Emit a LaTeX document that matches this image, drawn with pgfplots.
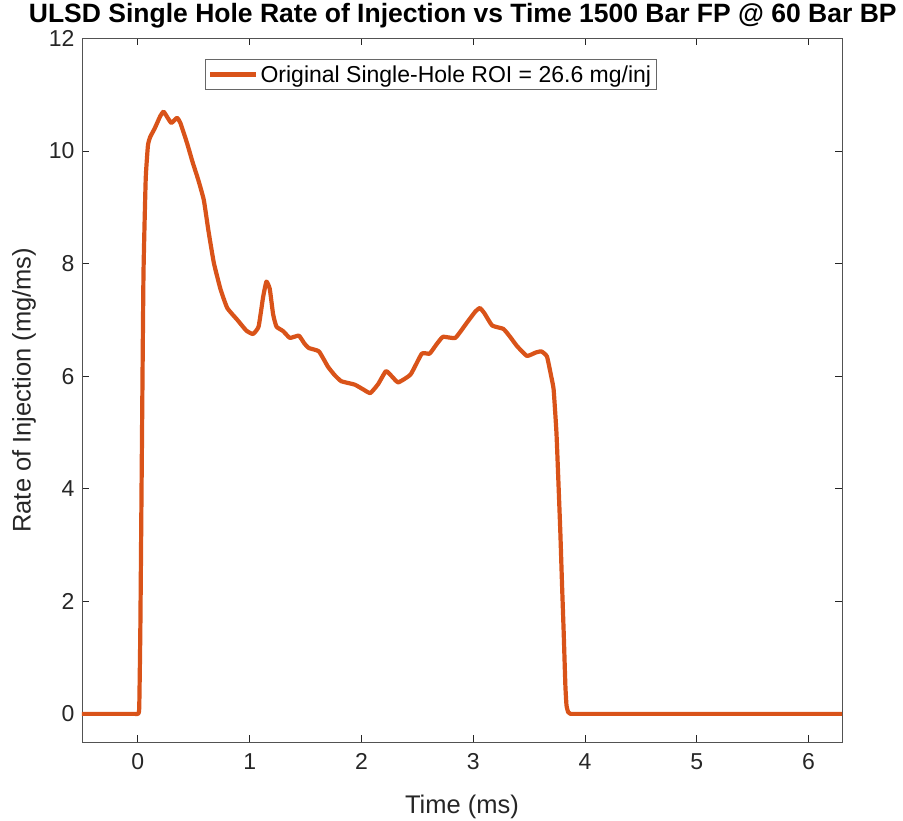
\documentclass[border=0pt]{standalone}
\usepackage{fontspec}
\setmainfont{Liberation Sans}
\usepackage{pgfplots}
\pgfplotsset{compat=1.18}
\definecolor{mlorange}{rgb}{0.85,0.325,0.098}
\definecolor{axgray}{rgb}{0.15,0.15,0.15}
\begin{document}
\begin{tikzpicture}
\begin{axis}[
  scale only axis,
  width=760pt, height=703.5pt,
  xmin=-0.5, xmax=6.3, ymin=-0.5, ymax=12,
  xtick={0,1,2,3,4,5,6},
  ytick={0,2,4,6,8,10,12},
  /pgf/number format/assume math mode=true,
  tick align=inside,
  major tick length=7pt,
  axis line style={draw=axgray!80, line width=0.8pt},
  every tick/.style={draw=axgray, line width=0.8pt},
  ticklabel style={font=\fontsize{23}{26}\selectfont, text=axgray},
  xticklabel style={yshift=-8pt},
  yticklabel style={xshift=-4pt},
  xlabel={Time (ms)},
  ylabel={Rate of Injection (mg/ms)},
  label style={font=\fontsize{25.5}{28}\selectfont, text=axgray},
  xlabel style={at={(axis description cs:0.5,-0.1023)}, anchor=base},
  ylabel style={at={(axis description cs:-0.0763,0.5)}, anchor=center},
  title={ULSD Single Hole Rate of Injection vs Time 1500 Bar FP @ 60 Bar BP},
  title style={font=\fontsize{26.5}{30}\bfseries\selectfont, at={(axis description cs:0.501,1.0149)}, anchor=base, inner sep=0pt},
  legend style={at={(axis description cs:0.1618,0.9709)}, anchor=north west,
    draw=axgray!70, line width=0.8pt, font=\fontsize{23}{26}\selectfont, text=black,
    inner xsep=3pt, inner ysep=4pt},
  legend cell align=left,
  legend image code/.code={\draw[#1] (0pt,0pt) -- (46pt,0pt);},
]
\addplot[color=mlorange, line width=4.2pt, line join=round, smooth, tension=0.25] coordinates {
(-0.5,0) (-0.3,0) (-0.1,0) (-0.03,0) (0.0,0) (0.012,0.1) (0.022,1.5) (0.035,4.5) (0.05,7.8) (0.07,9.5) (0.09,10.1)
(0.11,10.25) (0.15,10.4) (0.20,10.62) (0.23,10.70) (0.27,10.58) (0.30,10.50)
(0.35,10.59) (0.38,10.50) (0.44,10.14) (0.49,9.8) (0.54,9.49) (0.59,9.13)
(0.63,8.60) (0.68,8.01) (0.74,7.54) (0.80,7.21) (0.89,7.00) (0.97,6.81)
(1.03,6.75) (1.08,6.88) (1.12,7.4) (1.15,7.68) (1.18,7.55) (1.21,7.1)
(1.24,6.88) (1.30,6.80) (1.36,6.68) (1.44,6.72) (1.49,6.58) (1.53,6.50)
(1.62,6.44) (1.70,6.17) (1.76,6.02) (1.82,5.91) (1.94,5.85) (2.02,5.76)
(2.08,5.70) (2.15,5.86) (2.22,6.09) (2.28,5.98) (2.33,5.89) (2.44,6.03)
(2.54,6.40) (2.61,6.40) (2.67,6.56) (2.73,6.70) (2.84,6.68) (2.94,6.94)
(3.02,7.15) (3.06,7.21) (3.10,7.12) (3.17,6.90) (3.27,6.84) (3.33,6.70)
(3.39,6.54) (3.48,6.36) (3.56,6.42) (3.61,6.44) (3.66,6.35) (3.70,5.98)
(3.72,5.76) (3.745,5.0) (3.765,4.0) (3.78,3.22) (3.795,2.3) (3.81,1.44) (3.825,0.5) (3.835,0.15) (3.85,0.03)
(3.87,0) (3.92,0) (4.05,0) (4.3,0) (5.0,0) (5.7,0) (6.3,0)
};
\addlegendentry{Original Single-Hole ROI = 26.6 mg/inj}
\end{axis}
\pgfresetboundingbox
\path[use as bounding box] ([xshift=-82pt,yshift=-79pt]current axis.south west) rectangle ([xshift=61pt,yshift=38.5pt]current axis.north east);
\end{tikzpicture}
\end{document}
